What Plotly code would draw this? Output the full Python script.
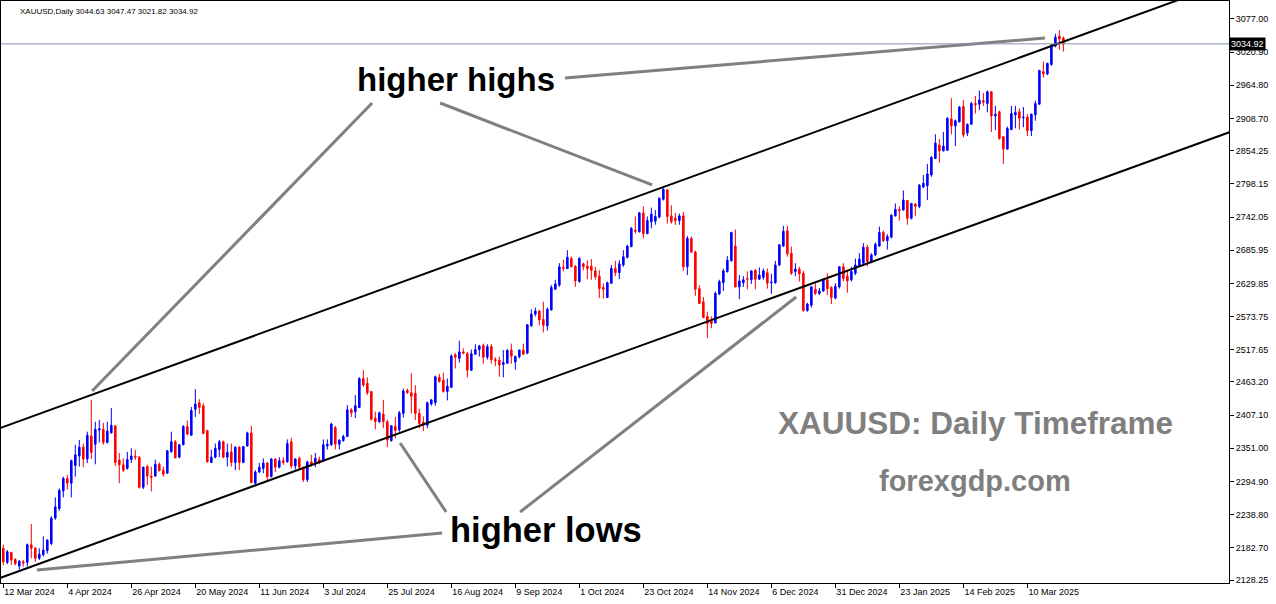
import plotly.graph_objects as go

# ---------------- data ----------------
opens = [2182,2158,2175,2163,2152,2159,2158,2188,2182,2165,2171,2178,2190,2233,2249,2279,2300,2292,2322,2338,
         2353,2333,2372,2358,2382,2383,2361,2377,2389,2331,2323,2317,2332,2338,2336,2285,2320,2304,2304,2324,
         2314,2309,2345,2362,2336,2357,2388,2373,2417,2428,2423,2381,2327,2336,2349,2362,2336,2345,2327,2353,
         2327,2355,2377,2292,2311,2317,2326,2303,2333,2319,2330,2328,2362,2321,2334,2319,2298,2328,2327,2332,
         2330,2355,2357,2386,2358,2364,2371,2416,2413,2420,2469,2461,2447,2402,2396,2409,2396,2364,2388,2382,
         2410,2449,2445,2444,2410,2395,2390,2426,2428,2471,2466,2447,2454,2509,2503,2514,2511,2483,2510,2518,
         2525,2505,2523,2501,2500,2493,2495,2517,2497,2506,2517,2512,2558,2578,2583,2569,2558,2585,2620,2627,
         2657,2655,2672,2659,2633,2663,2659,2659,2651,2642,2623,2606,2630,2655,2648,2661,2674,2692,2720,2717,
         2749,2714,2734,2735,2742,2772,2788,2744,2740,2736,2744,2658,2706,2683,2621,2599,2574,2567,2563,2612,
         2631,2650,2668,2693,2624,2631,2638,2636,2652,2637,2640,2648,2631,2631,2661,2693,2719,2681,2650,2654,
         2647,2584,2593,2620,2613,2617,2636,2623,2605,2624,2658,2642,2636,2647,2659,2664,2691,2667,2678,2693,
         2716,2702,2708,2744,2755,2754,2770,2740,2764,2760,2793,2795,2813,2841,2864,2854,2855,2908,2896,2903,
         2929,2884,2899,2934,2933,2939,2934,2954,2913,2920,2878,2857,2890,2915,2920,2910,2911,2888,2915,2933,
         2988,2984,3000,3031,3048,3044.63]
highs = [2188,2179,2176,2165,2162,2162,2190,2223,2184,2182,2202,2197,2236,2268,2283,2303,2306,2332,2357,2365,
         2359,2379,2433,2396,2399,2394,2396,2419,2390,2343,2334,2345,2351,2348,2338,2320,2323,2320,2332,2327,
         2320,2348,2379,2365,2358,2390,2398,2421,2451,2434,2427,2382,2349,2359,2365,2364,2359,2359,2354,2354,
         2355,2379,2389,2314,2326,2334,2328,2334,2334,2336,2336,2366,2369,2334,2337,2320,2330,2340,2343,2337,
         2366,2366,2394,2389,2366,2374,2424,2419,2441,2471,2483,2471,2448,2413,2413,2433,2399,2390,2404,2414,
         2452,2452,2478,2458,2418,2405,2430,2434,2474,2477,2479,2469,2510,2512,2533,2520,2514,2518,2527,2526,
         2528,2527,2527,2505,2506,2517,2518,2528,2508,2518,2528,2561,2586,2589,2585,2599,2589,2627,2636,2664,
         2670,2686,2675,2661,2674,2665,2669,2671,2658,2652,2630,2633,2661,2668,2669,2686,2695,2725,2743,2751,
         2760,2743,2758,2754,2775,2791,2789,2762,2749,2748,2751,2710,2709,2685,2627,2607,2582,2574,2616,2636,
         2655,2676,2717,2721,2644,2642,2650,2652,2654,2657,2655,2655,2646,2668,2696,2727,2727,2692,2664,2658,
         2651,2597,2625,2630,2622,2638,2647,2625,2630,2659,2664,2652,2658,2672,2681,2698,2695,2681,2699,2726,
         2719,2713,2747,2765,2760,2787,2771,2766,2766,2798,2813,2832,2845,2882,2874,2886,2911,2943,2907,2930,
         2940,2900,2937,2947,2956,2952,2956,2955,2930,2922,2879,2895,2930,2930,2926,2928,2916,2917,2939,2991,
         3005,3003,3035,3052,3058,3047.47]
lows = [2153,2155,2154,2153,2146,2151,2151,2165,2159,2162,2168,2173,2187,2230,2245,2268,2281,2268,2303,2320,
        2319,2326,2333,2324,2361,2357,2359,2376,2321,2292,2311,2315,2326,2331,2283,2282,2289,2278,2303,2312,
        2303,2308,2344,2334,2334,2356,2373,2373,2404,2409,2375,2327,2326,2334,2336,2334,2320,2320,2314,2314,
        2326,2354,2292,2290,2309,2309,2297,2302,2311,2317,2323,2327,2317,2315,2314,2294,2294,2320,2319,2324,
        2328,2349,2355,2349,2349,2362,2370,2404,2402,2419,2455,2441,2398,2383,2394,2385,2353,2362,2368,2379,
        2403,2443,2410,2399,2385,2380,2385,2423,2423,2462,2445,2432,2454,2486,2496,2510,2471,2482,2509,2506,
        2494,2501,2494,2490,2472,2471,2494,2494,2484,2503,2509,2510,2557,2574,2559,2547,2550,2584,2619,2624,
        2650,2654,2657,2624,2631,2652,2637,2636,2636,2605,2604,2605,2629,2642,2637,2658,2672,2691,2714,2716,
        2706,2713,2723,2729,2740,2770,2731,2731,2729,2729,2651,2644,2681,2609,2595,2571,2537,2554,2563,2610,
        2617,2648,2667,2623,2603,2624,2620,2629,2620,2636,2636,2621,2612,2629,2659,2692,2675,2644,2642,2633,
        2582,2582,2589,2610,2610,2616,2610,2595,2603,2621,2633,2614,2633,2644,2658,2659,2659,2664,2676,2692,
        2700,2687,2706,2743,2736,2753,2729,2738,2744,2757,2791,2771,2810,2840,2834,2853,2854,2882,2862,2902,
        2877,2879,2898,2917,2923,2930,2919,2886,2889,2873,2832,2856,2889,2892,2890,2894,2879,2879,2905,2932,
        2978,2982,2998,3029,3025,3021.82]
closes = [2159,2176,2162,2156,2160,2157,2188,2182,2165,2172,2179,2196,2233,2252,2280,2300,2292,2330,2340,2353,
          2333,2373,2344,2383,2384,2361,2380,2390,2327,2323,2314,2332,2338,2336,2285,2319,2304,2302,2324,2313,
          2307,2347,2362,2335,2357,2388,2375,2415,2426,2420,2376,2328,2336,2351,2362,2336,2344,2327,2353,2327,
          2354,2377,2293,2311,2319,2326,2303,2333,2319,2330,2327,2359,2321,2333,2319,2298,2328,2324,2334,2327,
          2357,2358,2392,2358,2365,2371,2416,2411,2423,2469,2458,2445,2400,2396,2411,2396,2365,2389,2381,2411,
          2448,2445,2439,2410,2393,2390,2428,2433,2472,2464,2447,2456,2507,2505,2514,2512,2483,2511,2518,2524,
          2505,2523,2501,2499,2492,2496,2517,2507,2506,2517,2510,2560,2578,2583,2568,2559,2586,2623,2629,2658,
          2655,2674,2658,2634,2672,2658,2655,2652,2641,2621,2620,2631,2655,2648,2663,2675,2693,2723,2718,2749,
          2714,2736,2747,2743,2774,2789,2743,2734,2736,2744,2658,2706,2683,2620,2596,2572,2562,2562,2613,2633,
          2651,2669,2716,2624,2634,2636,2637,2651,2637,2644,2651,2630,2632,2661,2695,2718,2680,2647,2654,2646,
          2584,2595,2624,2613,2617,2636,2621,2606,2625,2658,2638,2634,2650,2661,2671,2691,2667,2678,2696,2716,
          2702,2709,2745,2755,2753,2771,2740,2765,2760,2796,2799,2815,2843,2867,2854,2862,2909,2896,2905,2928,
          2881,2899,2934,2932,2940,2936,2954,2913,2916,2875,2857,2892,2917,2919,2909,2911,2888,2916,2934,2990,
          2984,3002,3033,3046,3043,3034.92]

bar_index = list(range(len(closes)))

# date labels shown every 16 bars
tick_bars = [0, 16, 32, 48, 64, 80, 96, 112, 128, 144, 160, 176, 192, 208, 224, 240, 256]
tick_dates = ["12 Mar 2024", "4 Apr 2024", "26 Apr 2024", "20 May 2024", "11 Jun 2024", "3 Jul 2024",
              "25 Jul 2024", "16 Aug 2024", "9 Sep 2024", "1 Oct 2024", "23 Oct 2024", "14 Nov 2024",
              "6 Dec 2024", "31 Dec 2024", "23 Jan 2025", "14 Feb 2025", "10 Mar 2025"]

price_ticks = [3077.00, 3020.90, 2964.80, 2908.70, 2854.25, 2798.15, 2742.05, 2685.95, 2629.85,
               2573.75, 2517.65, 2463.20, 2407.10, 2351.00, 2294.90, 2238.80, 2182.70, 2128.25]

last_price = 3034.92
header_ohlc = [3044.63, 3047.47, 3021.82, 3034.92]

# channel lines: price at bar 0 and at bar 266
upper_channel = [2387.2, 3041.0]
lower_channel = [2133.7, 2786.2]
channel_bars = [0, 266]

# pointer lines (bar, price) pairs
pointer_lines = [
    [(92.2, 2934.9), (22.2, 2447.9)],
    [(109.2, 2934.9), (162.2, 2796.3)],
    [(140.4, 2977.2), (260.4, 3044.8)],
    [(110.7, 2243.3), (99.2, 2360.0)],
    [(129.2, 2243.3), (198.2, 2606.9)],
    [(109.7, 2207.8), (8.4, 2145.2)],
]

# ---------------- figure ----------------
X_RANGE = [-0.575, 306.4]
Y_RANGE = [2123.2, 3107.4]
FONT = "Liberation Sans, Arial, sans-serif"

fig = go.Figure()

fig.add_trace(go.Candlestick(
    x=bar_index, open=opens, high=highs, low=lows, close=closes,
    increasing=dict(line=dict(color="#0000ff", width=1), fillcolor="#0000ff"),
    decreasing=dict(line=dict(color="#ff0000", width=1), fillcolor="#ff0000"),
    whiskerwidth=0, showlegend=False, hoverinfo="skip",
))

def extend(line):
    slope = (line[1] - line[0]) / (channel_bars[1] - channel_bars[0])
    xs = [X_RANGE[0] - 2, X_RANGE[1] + 2]
    ys = [line[0] + slope * (x - channel_bars[0]) for x in xs]
    return xs, ys

for ch in (upper_channel, lower_channel):
    xs, ys = extend(ch)
    fig.add_trace(go.Scatter(x=xs, y=ys, mode="lines", line=dict(color="black", width=2),
                             showlegend=False, hoverinfo="skip"))

for (a, b) in pointer_lines:
    fig.add_trace(go.Scatter(x=[a[0], b[0]], y=[a[1], b[1]], mode="lines",
                             line=dict(color="#808080", width=3),
                             showlegend=False, hoverinfo="skip"))

# current price line
fig.add_trace(go.Scatter(x=[X_RANGE[0] - 2, X_RANGE[1] + 2], y=[last_price, last_price], mode="lines",
                         line=dict(color="#8494a6", width=1), showlegend=False, hoverinfo="skip"))

fig.update_layout(
    width=1276, height=604,
    margin=dict(l=1, r=47, t=1, b=21),
    paper_bgcolor="white", plot_bgcolor="white",
    boxgap=0.45,
    font=dict(family=FONT, size=9, color="black"),
    xaxis=dict(range=X_RANGE, rangeslider=dict(visible=False), showgrid=False, zeroline=False,
               tickmode="array", tickvals=tick_bars, ticktext=tick_dates,
               ticks="outside", ticklen=4, tickcolor="black", ticklabelposition="outside right",
               showline=True, linecolor="black", linewidth=1, mirror=True,
               tickfont=dict(family=FONT, size=9, color="black")),
    yaxis=dict(range=Y_RANGE, side="right", showgrid=False, zeroline=False,
               tickmode="array", tickvals=price_ticks, ticktext=[f"{v:.2f}" for v in price_ticks],
               ticks="outside", ticklen=4, tickcolor="black",
               showline=True, linecolor="black", linewidth=1, mirror=True,
               tickfont=dict(family=FONT, size=9, color="black")),
)

annotations = [
    dict(text="<b>higher highs</b>", x=0.3705, y=0.8643, font=dict(size=33, color="black")),
    dict(text="<b>higher lows</b>", x=0.4438, y=0.0911, font=dict(size=34.5, color="black")),
    dict(text="<b>XAUUSD: Daily Timeframe</b>", x=0.7932, y=0.2749, font=dict(size=31.5, color="#7f7f7f")),
    dict(text="<b>forexgdp.com</b>", x=0.7932, y=0.1753, font=dict(size=29, color="#7f7f7f")),
]
for a in annotations:
    fig.add_annotation(xref="paper", yref="paper", showarrow=False, xanchor="center", yanchor="middle",
                       font_family=FONT, **{k: v for k, v in a.items()})

fig.add_annotation(xref="paper", yref="paper", x=0.0138, y=0.9811, xanchor="left", yanchor="middle",
                   showarrow=False, font=dict(family=FONT, size=8, color="black"),
                   text="XAUUSD,Daily " + " ".join(f"{v:.2f}" for v in header_ohlc))

fig.add_annotation(xref="paper", yref="y", x=1.0, y=last_price, xanchor="left", yanchor="middle",
                   showarrow=False, text=f"{last_price:.2f}", bgcolor="black",
                   font=dict(family=FONT, size=9, color="white"), borderpad=1)

fig.write_html("out.html", config={"displayModeBar": False},
               post_script="document.body.style.margin='0';document.body.style.overflow='hidden';")
